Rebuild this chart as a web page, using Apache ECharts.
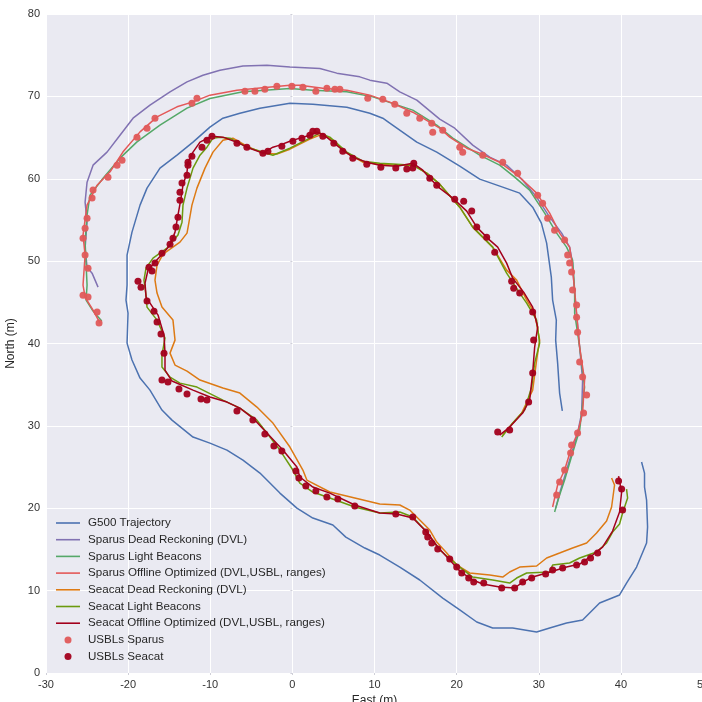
<!DOCTYPE html>
<html>
<head>
<meta charset="utf-8">
<script src="https://cdn.jsdelivr.net/npm/echarts@6/dist/echarts.min.js"></script>
<style>
  html, body { margin: 0; padding: 0; background: #ffffff; }
  #chart { width: 702px; height: 702px; }
</style>
</head>
<body>
<div id="chart"></div>
<script>
// Trajectories in local East/North metres, [east, north]
const g500Trajectory = [
  [32.87,31.83],[32.54,33.98],[32.30,37.62],[32.06,40.41],[32.14,42.84],[31.69,45.27],[31.53,48.06],
  [30.96,52.18],[30.32,54.61],[29.26,56.55],[27.68,58.25],[25.61,58.98],[22.81,59.95],[20.38,61.53],
  [17.58,63.23],[15.15,64.44],[11.86,66.75],[11.01,67.35],[9.43,67.96],[6.63,68.69],[2.49,69.05],
  [-0.30,69.17],[-3.95,68.57],[-6.39,67.96],[-8.46,67.35],[-10.04,66.26],[-12.10,64.44],[-14.05,62.86],
  [-16.12,61.29],[-17.70,58.86],[-18.55,56.80],[-19.53,53.52],[-20.13,50.73],[-20.13,47.09],[-20.26,45.27],
  [-20.01,43.69],[-20.13,40.05],[-19.53,37.99],[-18.55,35.80],[-17.34,34.34],[-15.88,31.92],[-14.66,30.70],
  [-12.10,28.64],[-10.04,27.91],[-7.97,27.06],[-6.02,25.85],[-3.95,24.27],[-1.52,21.84],[0.55,20.02],
  [2.49,18.81],[4.93,17.96],[6.51,16.50],[8.82,15.17],[10.64,14.32],[13.08,12.86],[15.51,11.29],
  [18.31,9.10],[20.38,7.65],[22.45,6.19],[24.39,5.46],[26.82,5.46],[29.74,4.98],[31.33,5.46],
  [33.39,6.07],[35.34,6.43],[37.41,8.50],[39.84,9.47],[40.69,10.92],[41.91,12.86],[43.13,15.78],
  [43.25,17.72],[43.13,21.00],[42.88,22.57],[42.88,24.27],[42.52,25.61]
];

const sparusDeadReckoning = [
  [32.06,20.02],[32.66,22.21],[33.39,24.64],[34.12,27.06],[34.73,29.13],[35.22,31.55],[35.34,35.56],
  [34.98,39.56],[34.61,43.45],[34.37,46.12],[34.12,49.76],[33.76,51.70],[32.79,53.40],[31.33,55.34],
  [29.74,57.77],[28.04,59.83],[26.09,61.65],[24.03,62.62],[21.96,64.08],[19.77,66.14],[17.94,67.23],
  [15.15,69.54],[13.08,70.55],[11.50,71.60],[9.43,71.97],[8.21,72.37],[5.41,72.82],[3.35,73.39],
  [-0.30,73.58],[-3.10,73.79],[-6.02,73.70],[-8.82,73.18],[-10.89,72.57],[-12.83,71.76],[-14.90,70.55],
  [-17.34,68.93],[-19.40,67.35],[-20.99,65.29],[-22.57,63.23],[-24.27,61.65],[-25.00,59.59],[-25.24,57.16],
  [-25.00,54.73],[-25.24,51.58],[-25.00,49.27],[-24.39,48.54],[-23.66,46.84]
];

const sparusLightBeacons = [
  [31.93,19.54],[32.54,21.60],[33.15,23.42],[34.12,26.70],[34.98,29.49],[35.58,34.71],[34.98,39.56],
  [34.37,43.69],[34.37,46.48],[34.12,50.12],[33.39,51.70],[32.18,53.40],[30.72,55.83],[28.89,58.62],
  [27.07,60.19],[25.24,61.65],[22.81,62.86],[19.53,64.93],[17.58,66.50],[14.66,68.33],[9.79,69.94],
  [6.63,70.55],[2.49,70.75],[-0.30,70.96],[-6.02,70.55],[-10.04,69.74],[-12.83,68.57],[-16.12,66.50],
  [-18.92,64.48],[-20.99,62.50],[-23.05,60.07],[-24.64,58.01],[-25.00,55.58],[-25.24,52.31],[-25.00,47.09],
  [-25.12,45.27],[-24.27,43.93],[-23.21,42.72]
];

const sparusOptimized = [
  [31.69,20.15],[32.30,22.82],[33.15,24.64],[34.00,27.43],[34.73,29.13],[35.34,31.55],[35.58,35.56],
  [34.98,39.56],[34.61,43.69],[34.37,46.48],[34.00,50.12],[33.76,51.70],[32.54,53.40],[31.33,55.83],
  [29.74,58.25],[27.68,60.19],[25.24,62.01],[22.81,63.11],[21.23,63.71],[19.16,65.05],[17.94,66.14],
  [14.66,68.08],[11.86,69.30],[9.43,70.15],[6.63,70.75],[3.71,71.00],[0.91,71.36],[-0.30,71.36],
  [-3.95,71.03],[-6.75,70.75],[-10.04,70.15],[-12.10,69.33],[-14.05,68.73],[-16.48,67.51],[-18.55,65.69],
  [-20.62,63.27],[-22.20,60.84],[-23.78,59.22],[-25.00,56.80],[-25.49,53.16],[-25.24,50.73],[-25.49,47.09],
  [-25.24,45.63],[-24.27,44.05],[-23.42,42.48]
];

const seacatDeadReckoning = [
  [25.61,28.88],[27.92,31.55],[29.26,34.34],[29.74,37.99],[30.11,40.41],[29.50,43.69],[28.53,45.27],
  [27.31,47.69],[26.09,48.91],[24.39,51.70],[21.96,54.13],[20.38,56.55],[17.94,59.34],[16.36,60.68],
  [14.66,61.65],[12.71,61.65],[10.64,61.77],[8.58,62.01],[6.63,63.11],[4.56,64.93],[3.35,65.29],
  [2.13,64.81],[0.91,64.20],[-0.30,63.59],[-1.89,62.99],[-3.59,63.11],[-5.54,63.96],[-7.24,64.93],
  [-8.46,64.68],[-9.67,63.23],[-10.64,61.29],[-11.62,58.86],[-12.23,56.80],[-12.59,54.73],[-12.83,53.40],
  [-13.69,52.31],[-15.75,50.85],[-16.48,49.51],[-16.73,47.69],[-16.48,46.12],[-15.88,44.42],[-14.54,42.84],
  [-14.29,40.41],[-14.90,38.83],[-14.29,37.38],[-12.83,36.65],[-11.25,35.56],[-8.46,34.59],[-6.39,33.98],
  [-4.32,32.28],[-2.37,30.34],[-0.30,27.43],[1.28,24.64],[1.76,23.42],[4.56,21.97],[7.60,21.24],
  [10.64,20.51],[13.08,20.39],[14.29,19.78],[15.51,18.57],[16.73,17.35],[17.58,15.90],[18.80,14.56],
  [20.01,13.11],[21.59,12.14],[24.03,11.89],[25.61,11.65],[26.46,12.26],[27.68,12.86],[29.74,12.99],
  [30.96,13.96],[32.54,14.56],[34.12,15.17],[35.83,15.78],[37.04,16.99],[38.26,18.45],[38.87,20.15],
  [39.23,22.82],[38.87,23.67]
];

const seacatLightBeacons = [
  [25.49,28.64],[26.82,30.34],[28.28,31.92],[29.14,34.71],[29.50,37.62],[30.11,40.05],[29.74,42.84],
  [28.53,44.90],[27.68,46.12],[26.09,48.54],[24.39,51.70],[21.96,54.13],[20.38,56.55],[17.94,59.34],
  [16.36,60.68],[14.66,61.65],[12.71,61.77],[10.64,61.89],[8.58,62.14],[6.63,63.23],[4.56,65.05],
  [3.35,65.53],[2.13,64.93],[0.91,64.32],[-0.30,63.71],[-2.37,62.86],[-4.32,63.47],[-5.54,63.83],
  [-7.60,64.93],[-8.82,65.05],[-9.67,64.93],[-10.40,63.83],[-11.25,62.86],[-12.10,61.29],[-12.83,58.86],
  [-13.32,56.80],[-13.44,54.73],[-13.93,53.16],[-15.27,51.58],[-16.97,50.36],[-17.82,49.15],[-18.07,47.69],
  [-17.82,45.87],[-17.70,44.42],[-16.48,42.84],[-15.51,40.66],[-15.88,38.59],[-15.88,37.14],[-14.90,35.92],
  [-13.69,35.19],[-11.62,34.71],[-8.46,33.13],[-6.39,32.16],[-4.32,30.70],[-3.10,29.13],[-1.52,27.06],
  [0.06,24.64],[0.91,23.06],[2.49,21.97],[4.56,21.24],[7.60,20.15],[10.64,19.42],[13.08,19.54],
  [14.66,18.93],[16.36,17.11],[17.94,14.93],[20.38,12.86],[21.96,11.65],[24.39,11.29],[26.46,10.92],
  [27.31,11.53],[28.53,12.14],[31.33,12.26],[31.69,13.11],[33.76,13.35],[34.98,13.96],[37.04,14.68],
  [38.26,15.78],[38.99,17.11],[39.84,18.08],[40.21,19.42],[40.82,21.24],[40.69,22.33]
];

const seacatOptimized = [
  [25.24,28.88],[26.46,29.85],[28.04,31.55],[28.89,33.13],[29.26,36.41],[29.50,39.56],[29.87,41.99],
  [29.26,44.42],[28.16,46.24],[26.82,47.94],[26.09,49.76],[25.00,51.70],[24.03,52.55],[22.45,54.13],
  [21.23,56.07],[19.53,57.65],[17.94,58.86],[16.73,60.07],[15.88,61.04],[14.66,61.89],[12.71,61.53],
  [10.64,61.65],[9.06,62.01],[7.36,62.62],[6.14,63.47],[4.93,64.44],[3.71,65.41],[2.98,65.66],
  [2.13,65.29],[0.91,64.93],[-0.30,64.56],[-1.52,64.08],[-2.37,63.83],[-3.59,63.11],[-5.54,63.83],
  [-6.75,64.44],[-8.46,65.05],[-9.79,65.17],[-11.25,64.44],[-12.10,63.23],[-12.71,62.01],[-12.83,60.80],
  [-13.32,59.22],[-13.56,57.65],[-13.93,55.58],[-14.29,53.52],[-14.90,51.94],[-15.75,50.97],[-16.73,49.88],
  [-17.58,48.91],[-17.94,47.33],[-17.82,45.63],[-16.36,43.45],[-15.63,41.02],[-15.51,38.83],[-15.51,36.77],
  [-14.66,35.44],[-12.10,34.34],[-10.04,33.50],[-7.97,32.89],[-6.39,32.16],[-4.81,30.95],[-3.10,29.13],
  [-1.16,27.06],[0.55,25.00],[0.91,23.79],[2.49,22.57],[4.56,21.84],[7.60,20.39],[10.64,19.42],
  [12.71,19.30],[14.66,18.81],[16.36,17.11],[17.70,15.29],[19.16,13.71],[20.38,12.38],[21.96,11.29],
  [23.18,10.80],[25.24,10.44],[27.07,10.32],[28.04,11.04],[29.26,11.65],[30.96,12.14],[32.18,12.50],
  [33.39,12.86],[34.98,13.23],[36.56,14.32],[37.77,15.29],[38.99,17.23],[39.84,19.54],[40.09,21.97],
  [39.72,23.91]
];

// USBL fixes
const usblSparus = [
  [-23.54,42.48],[-23.78,43.81],[-24.88,45.63],[-25.49,45.87],[-24.88,49.15],[-25.24,50.73],[-25.49,52.79],
  [-25.24,54.00],[-25.00,55.22],[-24.39,57.65],[-24.27,58.62],[-22.45,60.19],[-21.35,61.65],[-20.74,62.26],
  [-18.92,65.05],[-17.70,66.14],[-16.73,67.35],[-12.23,69.17],[-11.62,69.78],[-5.78,70.63],[-4.56,70.63],
  [-3.35,70.87],[-1.89,71.24],[-0.06,71.24],[1.28,71.12],[2.86,70.63],[4.20,71.00],[5.17,70.87],
  [5.78,70.87],[9.18,69.78],[11.01,69.66],[12.47,69.05],[13.93,67.96],[15.51,67.35],[16.97,66.75],
  [17.09,65.66],[18.31,65.90],[20.38,63.83],[20.74,63.23],[23.18,62.86],[25.61,62.01],[27.43,60.68],
  [29.87,58.01],[30.47,57.04],[31.08,55.22],[31.93,53.76],[33.15,52.55],[33.52,50.73],[33.76,49.76],
  [34.00,48.67],[34.12,46.48],[34.61,44.66],[34.61,43.20],[34.73,41.38],[34.98,37.74],[35.34,35.92],
  [35.83,33.74],[35.46,31.55],[34.73,29.13],[34.00,27.67],[33.88,26.70],[33.15,24.64],[32.54,23.18],
  [32.18,21.60]
];

const usblSeacat = [
  [25.00,29.25],[26.46,29.49],[28.77,32.89],[29.26,36.41],[29.38,40.41],[29.26,43.81],[27.68,46.12],
  [26.95,46.72],[26.70,47.57],[24.64,51.09],[23.66,52.91],[22.45,54.13],[21.84,56.07],[20.86,57.28],
  [19.77,57.52],[17.58,59.22],[16.73,60.07],[14.78,61.89],[14.66,61.29],[13.93,61.17],[12.59,61.29],
  [10.77,61.41],[9.06,61.77],[7.36,62.50],[6.14,63.35],[5.05,64.32],[3.71,65.17],[2.98,65.78],
  [2.49,65.78],[2.13,65.29],[1.16,64.93],[0.06,64.56],[-1.28,63.96],[-2.98,63.35],[-3.59,63.11],
  [-5.54,63.83],[-6.75,64.32],[-9.79,65.17],[-10.40,64.68],[-11.01,63.83],[-12.23,62.74],[-12.71,62.01],
  [-12.71,61.65],[-12.83,60.44],[-13.44,59.47],[-13.69,58.37],[-13.69,57.40],[-13.93,55.34],[-14.17,54.13],
  [-14.54,52.79],[-14.90,52.06],[-15.88,50.97],[-16.73,49.76],[-17.46,49.27],[-17.09,48.79],[-18.80,47.57],
  [-18.43,46.84],[-17.70,45.15],[-16.85,43.93],[-16.48,42.60],[-16.00,41.14],[-15.63,38.83],[-15.88,35.56],
  [-15.15,35.32],[-13.81,34.47],[-12.83,33.86],[-11.13,33.25],[-10.40,33.13],[-6.75,31.80],[-4.81,30.70],
  [-3.35,29.00],[-2.25,27.55],[-1.28,26.94],[0.43,24.51],[0.79,23.67],[1.64,22.69],[2.86,22.09],
  [4.20,21.36],[5.54,21.12],[7.60,20.27],[12.59,19.30],[14.66,18.93],[16.24,17.11],[16.48,16.50],
  [16.97,15.78],[17.70,15.05],[19.16,13.83],[20.01,12.86],[20.62,12.14],[21.47,11.53],[22.08,11.04],
  [23.30,10.92],[25.49,10.32],[27.07,10.32],[28.04,11.04],[29.14,11.53],[30.84,12.01],[31.69,12.50],
  [32.91,12.74],[34.61,13.11],[35.58,13.47],[36.31,13.96],[37.17,14.56],[40.21,19.78],[40.09,22.33],
  [39.72,23.30]
];

const trackSeries = [
  { name: 'G500 Trajectory', data: g500Trajectory, color: '#4C72B0' },
  { name: 'Sparus Dead Reckoning (DVL)', data: sparusDeadReckoning, color: '#8172B2' },
  { name: 'Sparus Light Beacons', data: sparusLightBeacons, color: '#55A868' },
  { name: 'Sparus Offline Optimized (DVL,USBL, ranges)', data: sparusOptimized, color: '#E45858' },
  { name: 'Seacat Dead Reckoning (DVL)', data: seacatDeadReckoning, color: '#DD7A14' },
  { name: 'Seacat Light Beacons', data: seacatLightBeacons, color: '#6B9A0E' },
  { name: 'Seacat Offline Optimized (DVL,USBL, ranges)', data: seacatOptimized, color: '#A3001C' }
];
const fixSeries = [
  { name: 'USBLs Sparus', data: usblSparus, color: '#E05A5A' },
  { name: 'USBLs Seacat', data: usblSeacat, color: '#A3001C' }
];

const FONT = 'Liberation Sans, Arial, sans-serif';
const LINE_ICON = 'path://M0,0L24,0L24,1.6L0,1.6Z';
const chart = echarts.init(document.getElementById('chart'), null, { renderer: 'canvas' });

const series = trackSeries.map(s => ({
  name: s.name, type: 'line', data: s.data, symbol: 'none', showSymbol: false,
  lineStyle: { color: s.color, width: 1.5 }, itemStyle: { color: s.color },
  animation: false, z: 2
})).concat(fixSeries.map(s => ({
  name: s.name, type: 'scatter', data: s.data, symbol: 'circle', symbolSize: 7,
  itemStyle: { color: s.color, opacity: 0.95 }, animation: false, z: 3
})));

chart.setOption({
  animation: false,
  backgroundColor: '#ffffff',
  grid: {
    left: 46, top: 14, width: 657, height: 659,
    show: true, backgroundColor: '#EAEAF2', borderWidth: 0,
    containLabel: false, outerBoundsMode: 'none'
  },
  xAxis: {
    type: 'value', min: -30, max: 50, interval: 10,
    name: 'East (m)', nameLocation: 'middle', nameGap: 18,
    nameTextStyle: { fontFamily: FONT, fontSize: 12, color: '#262626' },
    axisLine: { show: false },
    axisTick: { show: true, length: 2, lineStyle: { color: '#cfcfd8' } },
    axisLabel: { fontFamily: FONT, fontSize: 11, color: '#333333', margin: 6 },
    splitLine: { show: true, lineStyle: { color: '#ffffff', width: 1 } }
  },
  yAxis: {
    type: 'value', min: 0, max: 80, interval: 10,
    name: 'North (m)', nameLocation: 'middle', nameGap: 22, nameRotate: 90,
    nameTextStyle: { fontFamily: FONT, fontSize: 12, color: '#262626' },
    axisLine: { show: false },
    axisTick: { show: true, length: 2, lineStyle: { color: '#cfcfd8' } },
    axisLabel: { fontFamily: FONT, fontSize: 11, color: '#333333', margin: 6 },
    splitLine: { show: true, lineStyle: { color: '#ffffff', width: 1 } }
  },
  legend: {
    orient: 'vertical', left: 56, top: 516, padding: 0,
    itemWidth: 24, itemHeight: 7, itemGap: 2.7, symbolKeepAspect: true,
    textStyle: { fontFamily: FONT, fontSize: 11.6, color: '#262626', lineHeight: 14, padding: [0, 0, 0, 3] },
    data: trackSeries.map(s => ({ name: s.name, icon: LINE_ICON }))
      .concat(fixSeries.map(s => ({ name: s.name, icon: 'circle' })))
  },
  series: series
});
</script>
</body>
</html>
